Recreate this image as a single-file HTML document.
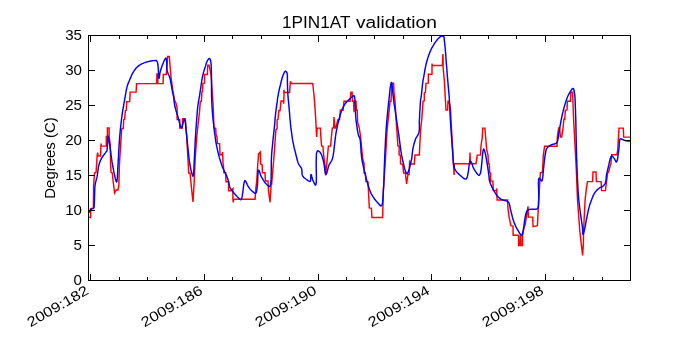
<!DOCTYPE html>
<html><head><meta charset="utf-8">
<style>
html,body{margin:0;padding:0;background:#fff;}
body{width:700px;height:350px;overflow:hidden;}
svg{display:block;will-change:transform;font-family:"Liberation Sans",sans-serif;}
</style></head><body>
<svg width="700" height="350" viewBox="0 0 700 350">
<rect width="700" height="350" fill="#fff"/>
<polyline fill="none" stroke="#ff0000" stroke-width="1.45" stroke-linejoin="miter" points="89.1,217.3 90.6,217.6 90.6,208.7 93.4,208.1 93.6,185.0 94.6,173.0 96.0,172.4 96.6,165.0 97.1,156.0 97.6,152.5 98.2,156.0 100.6,156.0 100.9,146.1 101.1,143.5 101.4,146.1 106.3,146.1 106.3,136.4 107.4,136.4 107.4,127.9 109.1,127.9 109.1,136.4 110.3,145.0 110.6,165.0 111.1,172.4 112.3,173.0 113.1,181.0 114.6,193.0 116.3,190.0 118.0,190.0 118.9,185.0 119.4,165.0 121.6,130.0 122.0,128.7 123.3,128.3 123.7,119.7 124.6,119.3 125.4,110.7 126.3,110.3 126.7,101.6 129.7,101.6 130.1,92.1 136.1,92.1 136.6,83.6 156.7,83.6 156.9,74.0 157.5,74.0 157.9,83.6 163.1,83.6 163.3,74.4 166.3,74.4 167.6,56.4 169.3,56.4 171.1,78.0 172.9,90.9 174.6,100.3 175.9,102.9 177.1,107.6 177.1,119.6 179.7,119.6 179.7,128.1 182.3,128.1 182.7,118.7 185.3,118.7 186.6,135.0 188.3,165.0 188.7,172.9 190.0,172.9 190.9,182.0 191.7,190.3 193.0,201.9 194.3,180.0 195.1,160.0 196.9,135.0 199.5,112.0 200.3,101.6 201.4,101.3 201.9,92.0 202.5,91.8 202.9,83.3 204.5,83.1 204.5,74.4 207.4,74.4 207.7,65.3 209.1,65.3 211.1,75.0 213.1,105.0 214.0,128.1 215.7,128.1 216.1,135.0 217.0,136.7 217.4,143.6 219.6,143.6 220.0,154.7 222.1,154.7 222.6,152.1 223.0,163.3 223.4,165.0 223.9,172.7 225.6,172.7 226.0,181.7 228.6,181.7 228.6,190.7 231.1,190.7 232.9,188.6 232.9,199.7 233.3,202.3 233.7,199.3 255.1,199.3 255.6,191.1 256.8,180.0 257.7,165.0 258.6,153.9 260.3,152.1 260.7,164.0 262.2,165.0 262.4,172.7 265.0,172.7 265.4,180.9 268.0,180.9 268.4,190.3 270.1,202.3 271.4,180.0 271.6,185.0 274.1,155.0 275.9,130.1 277.1,128.4 277.1,119.9 278.0,119.4 278.9,110.4 280.1,110.4 281.0,101.0 283.1,101.0 283.7,103.6 284.0,95.0 283.8,89.9 284.4,92.4 289.6,92.4 290.4,81.3 291.3,83.4 312.7,83.4 314.0,95.0 315.3,112.1 316.2,128.0 316.6,137.0 317.2,128.1 320.4,128.1 320.7,135.0 321.6,146.1 322.9,146.1 323.7,155.6 325.0,165.0 325.6,175.3 326.7,165.0 327.6,154.7 328.4,146.1 330.6,146.1 331.4,137.1 332.3,128.1 333.6,127.7 334.0,117.0 334.9,128.1 335.7,128.1 337.9,119.6 339.6,119.6 340.4,110.1 343.1,110.3 344.0,101.3 350.0,101.3 350.9,92.3 352.1,92.3 352.6,101.3 353.6,101.3 354.0,112.3 354.3,101.3 356.0,101.3 356.4,110.3 357.3,110.3 357.6,122.1 359.3,128.1 360.6,137.1 361.4,146.1 362.9,160.0 364.1,163.4 364.1,172.9 365.4,172.9 365.9,181.4 368.0,181.9 369.3,208.0 371.4,208.4 371.9,217.4 382.6,217.4 383.4,190.0 385.4,160.0 387.1,130.0 390.1,101.3 391.0,101.3 391.9,83.3 393.6,83.3 394.0,92.3 394.9,100.0 396.8,130.0 397.9,145.9 399.1,146.3 399.1,154.9 400.4,155.3 400.6,163.9 402.7,164.3 403.6,172.9 405.3,172.9 406.6,184.0 407.9,174.6 409.1,174.6 409.6,161.7 410.9,163.9 414.3,163.9 414.6,160.0 415.0,154.9 419.3,154.9 420.6,130.0 421.7,120.0 423.1,101.1 424.3,100.9 424.3,92.9 425.4,92.3 426.0,83.4 428.3,83.1 428.3,74.3 432.0,74.3 432.0,63.6 432.2,65.4 442.4,65.4 442.9,54.0 443.1,60.0 443.1,67.4 444.3,80.0 445.4,100.0 446.0,110.1 447.6,110.1 447.6,110.1 448.0,101.1 449.0,101.1 450.6,109.7 451.0,120.0 452.7,150.0 454.1,175.0 454.3,163.7 469.6,163.7 470.0,152.6 470.4,163.7 476.0,163.7 477.3,155.1 480.5,155.0 481.0,145.7 482.3,137.1 482.7,128.1 484.9,128.1 486.6,149.1 488.0,155.1 488.4,163.7 489.3,164.1 489.7,172.7 490.6,173.1 490.7,181.1 492.9,181.1 493.3,190.6 496.3,190.6 496.7,188.4 497.1,200.0 507.6,200.0 507.9,207.7 509.1,217.1 510.9,225.7 513.0,226.1 513.1,235.3 518.5,235.3 518.7,245.6 520.0,245.6 520.3,236.0 520.7,236.0 521.0,245.6 522.5,245.6 522.6,235.3 524.3,226.7 525.1,225.0 528.0,206.4 528.4,217.1 532.7,217.1 533.1,226.6 537.4,225.7 538.7,200.0 540.4,172.6 542.1,172.6 542.6,170.0 543.3,155.3 544.6,146.3 557.0,146.3 557.4,136.4 558.7,127.9 559.6,127.9 560.4,136.9 561.7,136.9 563.0,128.3 563.9,119.3 564.7,119.3 565.3,110.3 567.0,109.9 567.4,101.3 570.4,101.3 570.9,92.3 572.6,92.3 573.4,115.0 575.0,145.0 576.3,170.0 577.5,200.0 579.7,230.0 581.3,244.3 582.6,255.4 583.4,243.4 583.6,230.0 585.1,200.0 586.1,190.6 587.4,181.6 592.6,181.6 593.0,172.0 596.0,172.0 596.4,181.6 601.1,181.6 601.6,190.6 605.4,190.6 606.7,180.3 607.6,173.4 608.7,171.4 610.9,163.7 611.7,154.7 616.9,154.7 617.7,150.0 619.0,128.1 623.3,128.1 623.7,137.1 630.5,137.1"/>
<polyline fill="none" stroke="#0000ff" stroke-width="1.45" stroke-linejoin="round" points="89.1,212.7 89.2,212.4 89.3,212.1 89.4,211.6 89.6,211.2 89.8,210.8 90.0,210.4 90.2,210.1 90.5,209.9 90.8,209.6 91.1,209.4 91.4,209.2 91.7,209.0 92.0,208.8 92.4,208.7 92.8,208.6 93.1,208.5 93.4,208.4 93.7,208.1 94.0,207.5 94.1,206.8 94.2,206.0 94.2,205.1 94.2,204.1 94.3,203.0 94.4,200.6 94.5,197.6 94.6,194.3 94.7,190.9 94.8,187.7 95.1,185.0 95.4,183.4 95.7,181.9 96.1,180.6 96.4,179.2 96.8,177.9 97.1,176.4 97.4,174.6 97.7,172.6 97.9,170.6 98.2,168.6 98.5,166.7 98.9,165.0 99.3,163.7 99.7,162.5 100.1,161.4 100.6,160.2 101.1,159.2 101.7,158.1 102.3,157.1 103.0,156.0 103.8,155.0 104.5,154.0 105.2,153.1 105.7,152.4 105.9,152.1 106.2,151.8 106.4,151.6 106.6,151.4 106.7,151.1 106.9,150.7 107.2,148.8 107.4,145.8 107.6,142.4 107.7,139.3 107.8,136.9 108.0,136.0 108.2,136.4 108.5,137.5 108.8,139.1 109.1,141.1 109.4,143.1 109.7,145.0 110.1,147.9 110.6,151.1 111.0,154.6 111.5,158.2 112.0,161.7 112.6,165.0 113.2,168.3 113.9,172.1 114.7,175.7 115.4,178.9 116.1,181.2 116.6,182.0 117.0,181.1 117.3,178.9 117.5,175.7 117.7,172.0 117.8,168.3 118.0,165.0 118.2,161.7 118.4,158.3 118.6,154.9 118.7,151.5 118.9,148.2 119.1,145.0 119.3,142.4 119.5,139.9 119.6,137.4 119.8,135.0 120.1,132.5 120.3,130.0 120.6,127.2 120.9,124.3 121.3,121.4 121.6,118.5 122.0,115.6 122.4,112.9 122.7,110.6 123.1,108.5 123.5,106.3 123.8,104.2 124.2,102.1 124.6,100.0 125.0,97.7 125.4,95.4 125.8,93.0 126.2,90.7 126.6,88.6 127.1,86.6 127.5,85.3 127.9,84.1 128.4,82.9 128.8,81.8 129.3,80.7 129.8,79.5 130.4,78.1 131.0,76.7 131.6,75.3 132.3,73.9 133.0,72.6 133.7,71.4 134.4,70.4 135.0,69.5 135.7,68.6 136.4,67.8 137.2,67.0 138.0,66.3 138.8,65.7 139.6,65.1 140.5,64.6 141.3,64.1 142.2,63.7 143.1,63.3 143.9,62.9 144.8,62.6 145.6,62.3 146.5,62.1 147.4,61.8 148.3,61.6 149.5,61.3 150.9,61.0 152.2,60.8 153.6,60.6 154.7,60.5 155.6,60.5 155.9,60.5 156.1,60.6 156.4,60.7 156.5,60.8 156.7,60.9 156.9,61.1 157.2,61.7 157.5,62.6 157.7,63.6 157.8,64.7 158.0,65.9 158.1,67.1 158.3,69.0 158.4,71.5 158.5,74.0 158.6,76.2 158.7,77.9 158.9,78.5 159.1,78.1 159.3,77.2 159.5,75.9 159.7,74.3 160.0,72.8 160.3,71.4 160.7,70.1 161.1,68.8 161.5,67.5 161.9,66.2 162.4,64.9 162.9,63.7 163.4,62.6 163.9,61.3 164.5,60.1 165.0,59.1 165.5,58.3 165.9,58.1 166.1,58.3 166.3,58.6 166.4,59.1 166.5,59.8 166.6,60.4 166.7,61.1 166.8,62.4 166.8,63.9 166.8,65.6 166.8,67.3 166.9,69.0 167.1,70.6 167.4,71.9 167.9,73.1 168.4,74.3 169.0,75.5 169.5,76.7 169.9,78.0 170.3,79.7 170.7,81.6 171.0,83.5 171.4,85.4 171.7,87.3 172.0,89.1 172.3,90.6 172.6,92.1 172.9,93.5 173.2,94.9 173.5,96.3 173.7,97.7 173.9,98.9 174.0,100.1 174.1,101.3 174.2,102.5 174.4,103.7 174.6,105.0 175.0,106.8 175.5,108.8 176.1,110.9 176.8,113.0 177.4,115.0 178.0,117.0 178.6,119.1 179.1,121.4 179.7,123.7 180.3,125.7 180.8,127.2 181.4,127.7 181.9,127.1 182.4,125.5 183.0,123.4 183.5,121.3 184.0,119.7 184.4,119.1 184.9,119.9 185.3,121.9 185.6,124.8 185.9,128.2 186.2,131.7 186.6,135.0 187.1,139.6 187.6,144.8 188.2,150.3 188.7,155.7 189.3,160.7 190.0,165.0 190.5,167.5 191.0,170.0 191.6,172.4 192.1,174.4 192.6,175.8 193.0,176.3 193.4,175.5 193.6,173.4 193.8,170.4 194.0,166.9 194.1,163.3 194.3,160.0 194.5,156.2 194.7,152.1 194.9,148.0 195.1,143.7 195.3,139.4 195.6,135.0 195.9,130.0 196.3,124.6 196.7,119.2 197.1,113.9 197.5,109.1 198.0,105.0 198.3,103.0 198.5,101.3 198.8,99.8 199.1,98.3 199.4,96.7 199.7,95.0 200.0,92.7 200.4,90.2 200.8,87.6 201.1,85.0 201.5,82.6 201.8,80.5 202.0,79.3 202.2,78.2 202.4,77.1 202.6,76.1 202.8,75.1 203.1,74.0 203.4,72.7 203.8,71.5 204.2,70.2 204.6,68.9 205.0,67.6 205.4,66.4 205.7,65.4 206.0,64.3 206.3,63.3 206.7,62.3 207.0,61.5 207.4,60.7 207.7,60.2 208.0,59.7 208.4,59.2 208.7,58.8 209.0,58.6 209.3,58.5 209.5,58.6 209.8,58.8 210.0,59.1 210.2,59.6 210.4,60.1 210.6,60.7 211.2,64.9 211.4,71.6 211.5,79.9 211.5,88.8 211.6,97.5 211.9,105.0 212.3,110.5 212.7,115.8 213.2,121.0 213.8,126.0 214.3,130.7 214.9,135.0 215.3,137.7 215.6,140.3 216.0,142.6 216.4,144.9 216.9,147.2 217.4,149.6 218.0,152.2 218.6,154.8 219.3,157.4 220.1,160.0 220.9,162.5 221.7,165.0 222.6,167.4 223.7,169.7 224.8,172.1 225.9,174.3 226.9,176.6 227.7,178.7 228.2,180.4 228.6,182.1 229.0,183.7 229.3,185.2 229.7,186.7 230.3,188.1 230.9,189.2 231.6,190.2 232.4,191.1 233.1,192.0 233.9,192.9 234.6,193.7 235.2,194.4 235.7,195.1 236.3,195.7 236.9,196.4 237.4,197.0 238.0,197.5 238.5,198.0 239.0,198.5 239.5,199.1 240.1,199.5 240.5,199.7 241.0,199.7 241.9,198.0 242.5,194.5 243.1,190.0 243.6,185.5 244.2,182.1 244.9,180.6 245.4,180.9 246.0,181.8 246.6,183.1 247.2,184.5 247.9,185.9 248.5,187.0 249.0,187.7 249.5,188.4 250.0,189.0 250.6,189.6 251.1,190.2 251.7,190.7 252.3,191.3 253.0,191.9 253.7,192.5 254.4,193.0 255.1,193.3 255.6,193.3 256.1,192.8 256.4,191.9 256.7,190.7 256.9,189.3 257.1,187.9 257.3,186.4 257.6,183.7 257.7,180.3 257.8,176.7 258.0,173.4 258.2,171.1 258.6,170.1 258.9,170.4 259.3,171.2 259.7,172.3 260.2,173.6 260.6,175.0 261.1,176.1 261.6,177.1 262.2,178.2 262.8,179.2 263.4,180.3 264.0,181.2 264.6,182.1 265.1,182.8 265.7,183.5 266.3,184.1 266.9,184.7 267.5,185.2 268.0,185.6 268.3,185.8 268.7,186.1 269.0,186.3 269.3,186.4 269.6,186.5 269.9,186.4 270.7,184.3 271.1,180.0 271.2,174.1 271.3,167.4 271.3,160.8 271.6,155.0 272.0,149.8 272.6,144.3 273.1,138.9 273.7,133.7 274.2,129.0 274.6,125.0 274.8,123.1 274.9,121.5 275.0,120.0 275.1,118.6 275.2,117.1 275.4,115.6 275.6,113.9 275.8,112.2 276.0,110.5 276.2,108.7 276.5,107.0 276.7,105.3 276.9,103.6 277.2,101.9 277.4,100.2 277.6,98.5 277.9,96.7 278.2,95.0 278.5,93.2 278.9,91.3 279.3,89.4 279.7,87.5 280.2,85.7 280.6,83.9 281.0,82.4 281.4,80.8 281.8,79.3 282.2,77.9 282.6,76.5 283.1,75.3 283.5,74.4 283.8,73.5 284.2,72.7 284.6,71.9 285.0,71.4 285.4,71.2 285.7,71.3 286.0,71.5 286.3,71.8 286.5,72.2 286.8,72.6 287.0,73.1 287.3,74.2 287.4,75.5 287.4,77.1 287.4,78.7 287.4,80.4 287.4,82.1 287.5,84.1 287.5,86.2 287.6,88.4 287.7,90.6 287.8,92.8 287.9,95.0 288.1,97.1 288.2,99.2 288.5,101.3 288.7,103.5 288.9,105.6 289.1,107.9 289.3,110.6 289.6,113.4 289.8,116.3 290.0,119.2 290.3,122.1 290.6,125.0 290.9,127.9 291.3,130.8 291.7,133.7 292.1,136.6 292.5,139.4 293.0,142.1 293.5,144.4 293.9,146.6 294.4,148.8 295.0,150.9 295.5,153.0 296.0,155.0 296.4,156.6 296.8,158.2 297.2,159.8 297.6,161.3 298.1,162.7 298.6,164.0 299.1,164.9 299.6,165.7 300.2,166.4 300.7,167.1 301.2,167.9 301.6,168.7 301.8,169.8 301.9,170.9 302.0,172.1 302.0,173.3 302.1,174.4 302.4,175.4 302.8,176.1 303.3,176.8 303.9,177.4 304.5,178.0 305.2,178.5 305.8,179.0 306.5,179.5 307.3,180.1 308.1,180.7 308.9,181.1 309.6,181.4 310.1,181.3 310.5,180.6 310.7,179.3 310.8,177.7 310.8,176.2 310.8,175.0 311.0,174.5 311.3,174.8 311.6,175.7 311.9,177.0 312.3,178.4 312.7,179.8 313.1,180.9 313.5,181.8 314.0,182.7 314.4,183.7 314.9,184.4 315.3,185.0 315.7,185.1 316.3,182.5 316.4,176.3 316.2,168.3 316.2,160.3 316.4,153.9 317.3,150.9 317.7,150.8 318.2,150.9 318.8,151.2 319.3,151.6 319.8,152.1 320.3,152.6 320.9,153.5 321.5,154.7 322.0,156.1 322.4,157.6 322.9,159.1 323.3,160.7 323.8,163.1 324.3,166.0 324.7,169.0 325.1,171.7 325.5,173.6 326.0,174.4 326.4,173.9 326.9,172.6 327.4,170.7 327.9,168.7 328.4,166.6 329.0,165.0 329.5,164.0 330.1,163.1 330.7,162.2 331.2,161.3 331.8,160.3 332.3,159.0 333.1,155.9 333.7,152.0 334.2,147.6 334.7,143.1 335.2,138.8 335.7,135.0 336.1,132.6 336.5,130.3 337.0,128.2 337.4,126.1 337.8,124.1 338.3,122.1 338.7,120.4 339.1,118.7 339.6,117.1 340.0,115.6 340.4,114.1 340.9,112.7 341.2,111.7 341.6,110.7 342.0,109.8 342.3,109.0 342.7,108.1 343.1,107.3 343.5,106.5 343.9,105.8 344.3,105.1 344.7,104.4 345.2,103.7 345.7,103.0 346.3,102.2 347.0,101.5 347.8,100.8 348.5,100.0 349.3,99.4 350.0,98.7 350.7,98.1 351.4,97.4 352.2,96.7 352.8,96.1 353.4,95.8 353.9,95.7 354.1,95.8 354.3,96.1 354.4,96.4 354.5,96.9 354.6,97.4 354.7,97.9 355.0,99.9 355.1,102.7 355.3,105.9 355.4,109.2 355.5,112.4 355.6,115.0 355.7,116.3 355.8,117.5 355.9,118.6 356.0,119.7 356.1,120.8 356.3,122.1 356.6,124.1 356.9,126.4 357.2,128.8 357.6,131.1 358.0,133.2 358.4,135.0 358.7,135.8 358.9,136.4 359.2,136.9 359.5,137.5 359.8,138.2 360.0,139.0 360.4,141.5 360.7,144.6 360.9,148.2 361.1,152.1 361.5,156.1 362.0,160.0 363.0,165.0 364.2,170.4 365.6,176.0 367.0,181.4 368.4,186.2 369.7,190.0 370.3,191.5 370.8,192.7 371.3,193.9 371.9,194.9 372.5,195.9 373.1,196.9 373.8,197.9 374.4,198.9 375.2,199.8 375.9,200.7 376.7,201.6 377.4,202.4 378.1,203.2 378.8,204.0 379.5,204.8 380.1,205.5 380.8,205.9 381.3,205.9 382.0,204.9 382.5,202.9 382.8,200.0 383.0,196.7 383.2,193.3 383.4,190.0 383.7,185.6 383.9,180.7 384.1,175.6 384.2,170.4 384.4,165.1 384.6,160.0 384.8,155.0 385.0,150.0 385.3,145.0 385.5,140.0 385.8,135.0 386.1,130.0 386.5,124.9 386.9,119.7 387.4,114.5 387.9,109.4 388.4,104.5 388.9,100.0 389.3,96.4 389.7,92.5 390.1,88.7 390.6,85.5 391.0,83.2 391.4,82.4 391.8,83.2 392.1,85.5 392.5,88.7 392.8,92.5 393.2,96.4 393.6,100.0 394.2,104.5 395.0,109.4 395.7,114.5 396.5,119.7 397.3,124.9 398.1,130.0 398.8,135.1 399.5,140.4 400.2,145.7 400.9,150.9 401.7,155.7 402.6,160.0 403.3,162.9 404.0,166.0 404.7,168.9 405.5,171.4 406.3,173.1 407.0,173.7 407.8,173.0 408.6,171.1 409.4,168.5 410.1,165.5 410.8,162.5 411.4,160.0 411.8,158.1 412.0,156.2 412.2,154.3 412.4,152.5 412.6,150.7 412.9,148.9 413.2,147.2 413.6,145.6 414.0,144.0 414.4,142.4 414.9,140.9 415.4,139.4 415.9,138.2 416.6,137.1 417.2,136.1 417.9,135.0 418.5,133.9 418.9,132.6 419.2,130.8 419.4,128.8 419.4,126.8 419.4,124.6 419.3,122.3 419.4,120.0 419.6,116.7 419.7,113.0 420.0,109.2 420.2,105.5 420.4,102.3 420.6,100.0 420.7,99.4 420.8,98.9 420.8,98.5 420.9,98.1 421.0,97.7 421.1,97.1 421.4,94.9 421.7,91.9 422.1,88.5 422.4,85.2 422.8,82.2 423.1,80.0 423.2,79.4 423.3,78.9 423.4,78.5 423.5,78.1 423.6,77.7 423.7,77.1 423.9,75.8 424.2,74.2 424.5,72.5 424.8,70.7 425.1,69.0 425.4,67.4 425.7,66.1 425.9,64.9 426.2,63.7 426.5,62.5 426.8,61.3 427.2,60.0 427.7,58.5 428.2,56.9 428.7,55.3 429.3,53.7 429.9,52.1 430.6,50.6 431.2,49.2 431.9,47.9 432.6,46.6 433.4,45.3 434.1,44.1 434.9,42.9 435.6,41.9 436.3,40.9 437.0,40.0 437.7,39.1 438.4,38.4 439.1,37.7 439.6,37.3 440.1,36.9 440.6,36.5 441.2,36.3 441.6,36.1 442.1,36.0 442.4,36.0 442.8,36.1 443.1,36.2 443.4,36.4 443.7,36.6 443.9,36.9 444.1,37.3 444.2,37.7 444.2,38.2 444.2,38.8 444.3,39.4 444.3,40.0 444.4,41.0 444.6,42.1 444.7,43.2 444.8,44.5 445.0,45.8 445.1,47.1 445.3,49.0 445.4,51.0 445.6,53.1 445.8,55.3 445.9,57.6 446.1,60.0 446.3,63.1 446.6,66.3 446.9,69.7 447.1,73.2 447.4,76.6 447.7,80.0 448.0,83.3 448.3,86.7 448.6,90.0 448.9,93.3 449.2,96.7 449.4,100.0 449.6,103.3 449.8,106.5 449.9,109.7 450.0,113.0 450.2,116.4 450.4,120.0 450.7,124.7 451.0,129.9 451.4,135.1 451.8,140.4 452.1,145.4 452.5,150.0 452.7,153.3 452.9,156.5 453.1,159.6 453.3,162.4 453.6,165.0 454.1,167.1 454.4,168.0 454.7,168.8 455.0,169.5 455.4,170.1 455.8,170.7 456.3,171.4 456.9,172.2 457.6,172.9 458.3,173.6 459.0,174.4 459.8,175.0 460.6,175.7 461.5,176.4 462.4,177.3 463.4,178.1 464.4,178.8 465.3,179.1 466.1,179.1 467.2,177.4 467.9,174.0 468.6,169.8 469.1,165.6 469.7,162.4 470.4,161.1 471.0,161.5 471.6,162.7 472.2,164.4 472.8,166.4 473.5,168.2 474.3,169.7 475.1,170.9 476.0,172.2 476.9,173.5 477.8,174.5 478.6,175.2 479.4,175.3 480.5,173.1 481.3,168.1 481.9,161.9 482.5,155.7 483.0,150.9 483.7,149.0 484.6,150.6 485.6,154.7 486.6,160.4 487.6,166.4 488.4,171.9 488.9,175.7 489.0,176.7 489.1,177.5 489.1,178.2 489.2,178.9 489.2,179.5 489.4,180.3 489.7,181.4 490.1,182.5 490.5,183.7 491.0,184.9 491.5,186.0 492.0,187.1 492.4,188.0 492.8,188.8 493.3,189.6 493.7,190.4 494.2,191.2 494.6,191.9 495.0,192.6 495.4,193.2 495.8,193.9 496.2,194.5 496.6,195.1 497.1,195.7 497.7,196.3 498.3,197.0 499.0,197.6 499.7,198.2 500.4,198.7 501.0,199.1 501.4,199.3 501.7,199.5 502.0,199.6 502.3,199.7 502.7,199.8 503.1,200.0 503.9,200.3 504.8,200.5 505.7,200.7 506.7,201.1 507.6,201.5 508.3,202.1 509.0,203.2 509.5,204.6 509.9,206.1 510.2,207.8 510.5,209.5 510.9,211.1 511.3,212.7 511.7,214.3 512.1,215.9 512.4,217.4 512.9,219.0 513.4,220.6 514.0,222.2 514.7,223.9 515.4,225.5 516.1,227.1 516.9,228.6 517.7,230.0 518.4,231.1 519.1,232.3 519.8,233.5 520.5,234.5 521.2,235.1 521.7,235.3 522.1,235.0 522.3,234.4 522.6,233.5 522.7,232.4 523.0,231.2 523.2,230.0 523.7,227.2 524.2,223.6 524.8,219.7 525.4,215.9 526.2,212.7 527.1,210.7 527.5,210.3 527.9,210.0 528.3,209.8 528.7,209.7 529.2,209.5 529.7,209.4 530.8,209.3 532.2,209.3 533.7,209.3 535.1,209.3 536.4,209.1 537.4,208.6 538.0,207.7 538.4,206.5 538.5,205.0 538.6,203.5 538.6,201.8 538.7,200.0 538.8,196.5 538.7,191.9 538.5,187.1 538.4,182.8 538.6,179.5 539.1,178.1 539.5,178.3 539.9,178.8 540.4,179.6 540.9,180.4 541.3,180.9 541.7,181.1 542.2,180.4 542.5,179.0 542.8,177.0 543.0,174.6 543.2,172.2 543.4,170.0 543.7,167.4 544.0,164.4 544.3,161.5 544.7,158.5 545.0,155.9 545.4,153.6 545.6,152.5 545.8,151.4 546.0,150.5 546.3,149.6 546.6,148.8 547.1,148.0 547.7,147.3 548.3,146.7 549.0,146.2 549.8,145.7 550.6,145.2 551.4,144.8 552.3,144.5 553.2,144.2 554.1,144.1 555.0,143.8 555.9,143.5 556.6,142.9 557.4,141.6 557.9,139.9 558.2,137.9 558.5,135.7 558.7,133.5 559.1,131.3 559.6,128.7 560.1,125.9 560.6,123.1 561.1,120.3 561.7,117.5 562.2,115.0 562.6,113.1 563.1,111.4 563.5,109.7 563.9,108.0 564.4,106.4 564.9,104.7 565.4,103.1 565.9,101.5 566.4,99.8 567.0,98.3 567.6,96.7 568.3,95.3 569.0,93.9 569.9,92.3 570.8,90.8 571.6,89.6 572.4,88.7 573.0,88.4 573.3,88.6 573.6,89.0 573.8,89.5 574.0,90.2 574.1,91.0 574.3,91.9 574.7,94.5 575.0,98.0 575.2,102.0 575.3,106.3 575.5,110.7 575.6,115.0 575.8,119.8 575.9,124.8 576.0,129.9 576.1,135.1 576.2,140.1 576.3,145.0 576.4,149.3 576.5,153.4 576.6,157.5 576.8,161.6 576.9,165.7 577.1,170.0 577.3,174.8 577.5,179.8 577.8,184.8 578.0,189.9 578.4,195.0 578.8,200.0 579.4,205.3 580.1,211.0 580.9,216.7 581.7,222.0 582.3,226.5 582.7,230.0 582.8,231.1 582.8,232.1 582.8,233.0 582.8,233.7 582.9,234.2 583.0,234.4 583.2,234.2 583.4,233.7 583.6,233.0 583.9,232.1 584.1,231.0 584.4,230.0 585.0,227.3 585.7,223.7 586.4,219.7 587.2,215.6 588.0,211.8 588.7,208.6 589.2,206.9 589.6,205.4 590.0,204.0 590.5,202.7 591.0,201.3 591.5,200.0 592.0,198.6 592.6,197.3 593.1,195.9 593.7,194.6 594.4,193.4 595.1,192.3 595.8,191.4 596.4,190.6 597.2,189.9 597.9,189.2 598.7,188.6 599.4,188.0 600.0,187.6 600.6,187.4 601.2,187.1 601.7,186.9 602.3,186.7 602.8,186.3 603.3,185.9 603.8,185.4 604.3,184.8 604.7,184.2 605.1,183.6 605.4,182.9 605.7,181.8 606.0,180.5 606.1,179.2 606.2,177.7 606.3,176.3 606.5,175.0 606.7,173.8 607.0,172.7 607.2,171.6 607.5,170.4 607.8,169.3 608.1,168.0 608.6,165.9 609.1,163.4 609.7,160.8 610.3,158.5 611.0,156.8 611.7,156.0 612.1,156.1 612.6,156.4 613.0,156.9 613.5,157.4 613.9,158.1 614.3,158.6 614.7,159.2 615.1,160.0 615.4,160.7 615.8,161.4 616.1,161.9 616.4,162.0 616.9,161.3 617.4,159.7 617.8,157.4 618.1,154.8 618.5,152.2 618.8,150.0 619.0,147.9 619.2,145.6 619.3,143.3 619.5,141.3 619.8,139.7 620.3,138.9 620.5,138.8 620.8,138.8 621.1,138.9 621.4,139.0 621.7,139.2 622.0,139.3 622.5,139.5 623.0,139.7 623.6,140.0 624.2,140.2 624.8,140.4 625.4,140.6 626.1,140.7 626.8,140.8 627.5,140.9 628.2,140.9 628.8,141.0 629.3,141.0 629.6,141.0 629.8,141.0 630.0,141.0 630.2,141.0 630.4,141.0 630.5,141.0"/>
<g stroke="#000" stroke-width="1"><line x1="90.5" y1="280" x2="90.5" y2="274"/><line x1="90.5" y1="36" x2="90.5" y2="42"/><line x1="119.5" y1="280" x2="119.5" y2="277"/><line x1="119.5" y1="36" x2="119.5" y2="39"/><line x1="147.5" y1="280" x2="147.5" y2="277"/><line x1="147.5" y1="36" x2="147.5" y2="39"/><line x1="176.5" y1="280" x2="176.5" y2="277"/><line x1="176.5" y1="36" x2="176.5" y2="39"/><line x1="204.5" y1="280" x2="204.5" y2="274"/><line x1="204.5" y1="36" x2="204.5" y2="42"/><line x1="232.5" y1="280" x2="232.5" y2="277"/><line x1="232.5" y1="36" x2="232.5" y2="39"/><line x1="261.5" y1="280" x2="261.5" y2="277"/><line x1="261.5" y1="36" x2="261.5" y2="39"/><line x1="289.5" y1="280" x2="289.5" y2="277"/><line x1="289.5" y1="36" x2="289.5" y2="39"/><line x1="318.5" y1="280" x2="318.5" y2="274"/><line x1="318.5" y1="36" x2="318.5" y2="42"/><line x1="346.5" y1="280" x2="346.5" y2="277"/><line x1="346.5" y1="36" x2="346.5" y2="39"/><line x1="374.5" y1="280" x2="374.5" y2="277"/><line x1="374.5" y1="36" x2="374.5" y2="39"/><line x1="403.5" y1="280" x2="403.5" y2="277"/><line x1="403.5" y1="36" x2="403.5" y2="39"/><line x1="431.5" y1="280" x2="431.5" y2="274"/><line x1="431.5" y1="36" x2="431.5" y2="42"/><line x1="460.5" y1="280" x2="460.5" y2="277"/><line x1="460.5" y1="36" x2="460.5" y2="39"/><line x1="488.5" y1="280" x2="488.5" y2="277"/><line x1="488.5" y1="36" x2="488.5" y2="39"/><line x1="516.5" y1="280" x2="516.5" y2="277"/><line x1="516.5" y1="36" x2="516.5" y2="39"/><line x1="545.5" y1="280" x2="545.5" y2="274"/><line x1="545.5" y1="36" x2="545.5" y2="42"/><line x1="573.5" y1="280" x2="573.5" y2="277"/><line x1="573.5" y1="36" x2="573.5" y2="39"/><line x1="602.5" y1="280" x2="602.5" y2="277"/><line x1="602.5" y1="36" x2="602.5" y2="39"/><line x1="89" y1="280.5" x2="95" y2="280.5"/><line x1="630" y1="280.5" x2="624" y2="280.5"/><line x1="89" y1="245.5" x2="95" y2="245.5"/><line x1="630" y1="245.5" x2="624" y2="245.5"/><line x1="89" y1="210.5" x2="95" y2="210.5"/><line x1="630" y1="210.5" x2="624" y2="210.5"/><line x1="89" y1="175.5" x2="95" y2="175.5"/><line x1="630" y1="175.5" x2="624" y2="175.5"/><line x1="89" y1="140.5" x2="95" y2="140.5"/><line x1="630" y1="140.5" x2="624" y2="140.5"/><line x1="89" y1="105.5" x2="95" y2="105.5"/><line x1="630" y1="105.5" x2="624" y2="105.5"/><line x1="89" y1="70.5" x2="95" y2="70.5"/><line x1="630" y1="70.5" x2="624" y2="70.5"/><line x1="89" y1="35.5" x2="95" y2="35.5"/><line x1="630" y1="35.5" x2="624" y2="35.5"/></g>
<rect x="88.5" y="35.5" width="542" height="245" fill="none" stroke="#000" stroke-width="1"/>
<g font-size="16.7"><text transform="translate(282,28) scale(1.03,1)">1PIN1AT</text><text transform="translate(356,28) scale(1.147,1)">validation</text></g>
<g font-size="14"><text transform="translate(82,284.6) scale(1.08,1)" text-anchor="end">0</text><text transform="translate(82,249.6) scale(1.08,1)" text-anchor="end">5</text><text transform="translate(82,214.6) scale(1.08,1)" text-anchor="end">10</text><text transform="translate(82,179.6) scale(1.08,1)" text-anchor="end">15</text><text transform="translate(82,144.6) scale(1.08,1)" text-anchor="end">20</text><text transform="translate(82,109.6) scale(1.08,1)" text-anchor="end">25</text><text transform="translate(82,74.6) scale(1.08,1)" text-anchor="end">30</text><text transform="translate(82,39.6) scale(1.08,1)" text-anchor="end">35</text></g>
<text transform="translate(55,158) rotate(-90) scale(1.07,1)" text-anchor="middle" font-size="14">Degrees (C)</text>
<g font-size="14"><text transform="translate(89.70,293.3) rotate(-30) scale(1.17,1)" text-anchor="end">2009:182</text><text transform="translate(203.70,293.3) rotate(-30) scale(1.17,1)" text-anchor="end">2009:186</text><text transform="translate(317.70,293.3) rotate(-30) scale(1.17,1)" text-anchor="end">2009:190</text><text transform="translate(430.70,293.3) rotate(-30) scale(1.17,1)" text-anchor="end">2009:194</text><text transform="translate(544.70,293.3) rotate(-30) scale(1.17,1)" text-anchor="end">2009:198</text></g>
</svg>
</body></html>
